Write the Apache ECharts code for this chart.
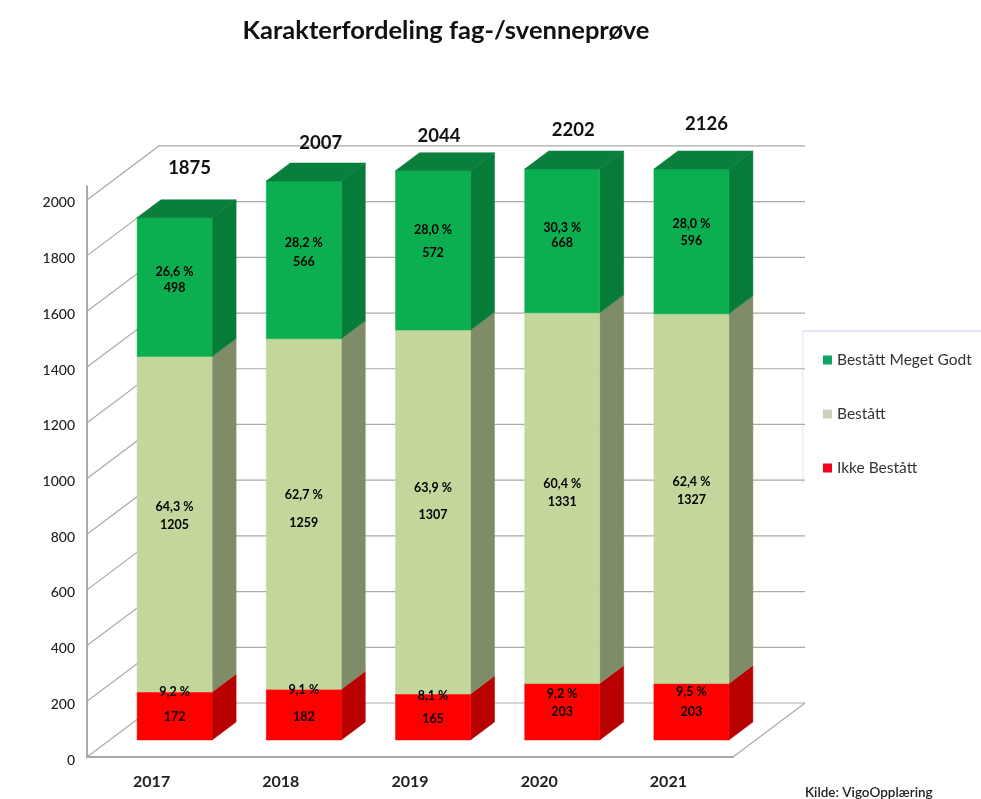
<!DOCTYPE html>
<html>
<head>
<meta charset="utf-8">
<style>html,body{margin:0;padding:0;background:#fff}#c{width:981px;height:799px}</style>
<script src="https://cdn.jsdelivr.net/npm/echarts@6/dist/echarts.min.js"></script>
</head>
<body>
<div id="c"></div>
<script>
// ---- data ----
const years = ['2017', '2018', '2019', '2020', '2021'];
const ikkeBestatt = [172, 182, 165, 203, 203];
const bestatt = [1205, 1259, 1307, 1331, 1327];
const meget = [498, 566, 572, 668, 596];
const totals = [1875, 2007, 2044, 2202, 2126];
const pctIkke = ['9,2 %', '9,1 %', '8,1 %', '9,2 %', '9,5 %'];
const pctBestatt = ['64,3 %', '62,7 %', '63,9 %', '60,4 %', '62,4 %'];
const pctMeget = ['26,6 %', '28,2 %', '28,0 %', '30,3 %', '28,0 %'];
const yTicks = [0, 200, 400, 600, 800, 1000, 1200, 1400, 1600, 1800, 2000];
const axisCeiling = 2050; // the original axis stops here and clips taller bars

// ---- layout (pixels, kept apart from the data) ----
const wall = { dx: 72, dy: -54 };
const barFront = { dx: 23, dy: -17, width: 75 };
const barDepth = { dx: 24, dy: -18 };
const nudgeMeget = { pct: [-15, -17, -20, -13, -17], num: [1, 2, 3, 2, 0] };
const nudgeBestatt = { pct: [-17, -19, -24, -14, -17], num: [1, 9, 3, 4, 1] };
const nudgeIkke = { pct: [-24, -25, -21, -18, -20], num: [1, 2, 2, 0, 0] };
const nudgeTotalX = [15, 17, 6, 11, 15];
const nudgeTotalY = [-50, -38, -35, -39, -45];

const FONT = 'Lato';

function segmentData(lows, vals) {
  return years.map((_, i) => [i, lows[i], Math.min(lows[i] + vals[i], axisCeiling)]);
}
const low0 = years.map(() => 0);
const low1 = ikkeBestatt.slice();
const low2 = years.map((_, i) => ikkeBestatt[i] + bestatt[i]);

function poly(points, fill) {
  return { type: 'polygon', shape: { points }, style: { fill, stroke: fill, lineWidth: 0.5 } };
}
function barRenderer(front, side, top, hasTop) {
  return function (params, api) {
    const i = api.value(0);
    const lo = api.coord([i, api.value(1)]);
    const hi = api.coord([i, api.value(2)]);
    const xL = lo[0] + barFront.dx - barFront.width / 2;
    const xR = xL + barFront.width;
    const yB = lo[1] + barFront.dy;
    const yT = hi[1] + barFront.dy;
    const d = barDepth;
    const kids = [
      poly([[xR, yB], [xR + d.dx, yB + d.dy], [xR + d.dx, yT + d.dy], [xR, yT]], side),
      poly([[xL, yB], [xR, yB], [xR, yT], [xL, yT]], front)
    ];
    if (hasTop) kids.push(poly([[xL, yT], [xR, yT], [xR + d.dx, yT + d.dy], [xL + d.dx, yT + d.dy]], top));
    return { type: 'group', children: kids };
  };
}
function labelRenderer(pcts, vals, nudge) {
  return function (params, api) {
    const i = api.value(0);
    const lo = api.coord([i, api.value(1)]);
    const hi = api.coord([i, api.value(2)]);
    const x = lo[0] + barFront.dx;
    const yMid = (lo[1] + hi[1]) / 2 + barFront.dy;
    const mk = (text, y) => ({
      type: 'text',
      style: { text, x, y, align: 'center', verticalAlign: 'middle', fill: '#000',
        font: 'bold 12.5px ' + FONT }
    });
    return { type: 'group', children: [mk(pcts[i], yMid + nudge.pct[i]), mk(String(vals[i]), yMid + nudge.num[i])] };
  };
}
function frameRenderer(params, api) {
  const v = api.value(0);
  const sys = params.coordSys;
  const p = api.coord([0, v]);
  const y = p[1], x0 = sys.x, x1 = sys.x + sys.width;
  const line = { stroke: '#aaaaaa', lineWidth: 1.2, fill: null };
  const kids = [{ type: 'polyline', shape: { points: [[x0, y], [x0 + wall.dx, y + wall.dy], [x1 + wall.dx, y + wall.dy]] }, style: line }];
  if (v === 0) kids.push({ type: 'polyline', shape: { points: [[x1, y], [x1 + wall.dx, y + wall.dy]] }, style: line });
  return { type: 'group', children: kids };
}
function totalRenderer(params, api) {
  const i = api.value(0);
  const p = api.coord([i, Math.min(api.value(1), axisCeiling)]);
  return {
    type: 'text',
    style: { text: String(totals[i]), x: p[0] + barFront.dx + nudgeTotalX[i], y: p[1] + barFront.dy + nudgeTotalY[i],
      align: 'center', verticalAlign: 'middle', fill: '#111', font: 'bold 18.5px ' + FONT }
  };
}
const segEnc = { x: 0, y: [1, 2] };
const common = { type: 'custom', coordinateSystem: 'cartesian2d', clip: false, encode: segEnc, silent: true };

const option = {
  animation: false,
  backgroundColor: '#fff',
  title: {
    text: 'Karakterfordeling fag-/svenneprøve', left: 441, top: 13, textAlign: 'center',
    textStyle: { fontFamily: FONT, fontWeight: 'bold', fontSize: 25.5, color: '#111' }
  },
  grid: { left: 87, width: 646, top: 186, height: 571, containLabel: false },
  xAxis: {
    type: 'category', data: years,
    axisLine: { show: true, lineStyle: { color: '#8c8c8c', width: 1.5 } },
    axisTick: { show: false },
    axisLabel: { margin: 17, fontFamily: FONT, fontWeight: 'bold', fontSize: 16, color: '#222' }
  },
  yAxis: {
    type: 'value', min: 0, max: axisCeiling, interval: 200,
    axisLine: { show: true, lineStyle: { color: '#8c8c8c', width: 1.5 } },
    axisTick: { show: false },
    splitLine: { show: false },
    axisLabel: { showMaxLabel: false, margin: 12,
      formatter: v => '{t|' + v + '}',
      rich: { t: { fontFamily: FONT, fontSize: 14, fontWeight: 500, color: '#222', padding: [6, 0, 0, 0] } } }
  },
  legend: {
    orient: 'vertical', left: 818, top: 347, icon: 'rect', itemWidth: 9, itemHeight: 9, itemGap: 38,
    selectedMode: false,
    textStyle: { fontFamily: FONT, fontSize: 15.5, color: '#333' },
    data: [
      { name: 'Bestått Meget Godt', itemStyle: { color: '#0FA565' } },
      { name: 'Bestått', itemStyle: { color: '#CFCFBD' } },
      { name: 'Ikke Bestått', itemStyle: { color: '#F5001E' } }
    ]
  },
  graphic: [
    { type: 'line', shape: { x1: 803, y1: 331, x2: 981, y2: 331 }, style: { stroke: '#c9c9ee', lineWidth: 1 } },
    { type: 'line', shape: { x1: 803, y1: 331, x2: 803, y2: 484 }, style: { stroke: '#e6e6ee', lineWidth: 1 } },
    { type: 'text', style: { text: 'Kilde: VigoOpplæring', x: 805, y: 786, fill: '#222', font: '600 13.5px ' + FONT } }
  ],
  series: [
    { ...common, name: 'frame', z: 1, data: yTicks.map(v => [v]), encode: { y: 0 }, renderItem: frameRenderer },
    { ...common, name: 'Ikke Bestått', z: 2, itemStyle: { color: '#F5001E' }, data: segmentData(low0, ikkeBestatt),
      renderItem: barRenderer('#FF0000', '#B80000', '#B80000', false) },
    { ...common, name: 'Bestått', z: 3, itemStyle: { color: '#CFCFBD' }, data: segmentData(low1, bestatt),
      renderItem: barRenderer('#C3D69B', '#7F8C68', '#7F8C68', false) },
    { ...common, name: 'Bestått Meget Godt', z: 4, itemStyle: { color: '#0FA565' }, data: segmentData(low2, meget),
      renderItem: barRenderer('#0BAF50', '#067C38', '#0A7F3C', true) },
    { ...common, name: 'lblIkke', z: 5, data: segmentData(low0, ikkeBestatt), renderItem: labelRenderer(pctIkke, ikkeBestatt, nudgeIkke) },
    { ...common, name: 'lblBestatt', z: 5, data: segmentData(low1, bestatt), renderItem: labelRenderer(pctBestatt, bestatt, nudgeBestatt) },
    { ...common, name: 'lblMeget', z: 5, data: segmentData(low2, meget), renderItem: labelRenderer(pctMeget, meget, nudgeMeget) },
    { ...common, name: 'totals', z: 6, data: years.map((_, i) => [i, totals[i]]), encode: { x: 0, y: 1 }, renderItem: totalRenderer }
  ]
};
echarts.init(document.getElementById('c')).setOption(option);
</script>
</body>
</html>
